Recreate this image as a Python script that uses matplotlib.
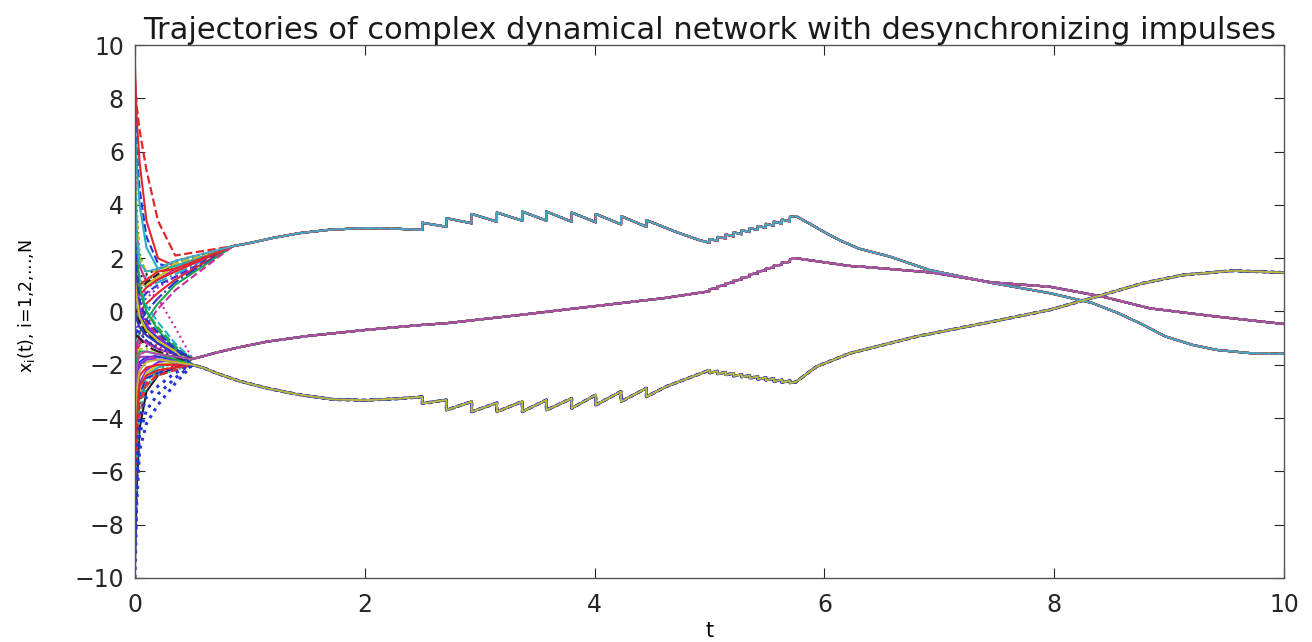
import matplotlib
matplotlib.use('Agg')
import matplotlib.pyplot as plt

# --- time knots for the initial transient (t = 0 ... 0.35) ---
t_init = [0.0, 0.015, 0.04, 0.1, 0.2, 0.35]

# node states at t_init, grouped by the cluster they end up in
top_nodes = [
    [8.6, 7.7, 6.8, 5.3, 3.4, 2.1],
    [9.2, 7.2, 5.6, 3.4, 2.0, 1.7],
    [7.4, 6.0, 4.6, 2.8, 1.8, 1.6],
    [6.3, 3.9, 2.2, 1.3, 1.2, 1.5],
    [5.4, 3.1, 1.7, 1.1, 1.2, 1.6],
    [4.6, 2.5, 1.2, 0.9, 1.1, 1.4],
    [3.8, 2.0, 1.0, 1.0, 1.3, 1.7],
    [3.0, 1.5, 0.8, 1.1, 1.4, 1.8],
    [2.2, 1.0, 0.6, 0.9, 1.2, 1.5],
    [1.4, 0.6, 0.4, 0.7, 1.0, 1.3],
    [0.6, 0.2, 0.2, 0.5, 0.9, 1.3],
    [-0.3, -0.2, 0.0, 0.3, 0.7, 1.2],
    [-1.2, -0.7, -0.4, 0.0, 0.5, 1.1],
    [-2.3, -1.4, -0.8, -0.3, 0.3, 1.0],
    [-3.4, -2.0, -1.2, -0.5, 0.1, 0.8],
    [6.9, 5.5, 4.0, 2.4, 1.6, 1.7],
    [5.0, 3.6, 2.0, 1.5, 1.5, 1.8],
    [2.7, 1.8, 1.3, 1.4, 1.6, 1.9],
    [0.9, 0.9, 1.0, 1.2, 1.5, 1.6],
    [4.0, 2.8, 1.8, 1.5, 1.6, 1.9],
]
mid_nodes = [
    [-1.0, -0.7, -0.8, -1.1, -1.4, -1.6],
    [-5.2, -3.6, -2.7, -2.2, -1.9, -1.8],
    [-8.2, -5.6, -3.9, -2.8, -2.3, -2.0],
    [1.8, 0.8, 0.0, -0.7, -1.2, -1.5],
    [3.4, 1.9, 0.8, 0.0, -0.6, -1.3],
    [0.4, 0.3, 0.5, 0.8, 0.5, -0.6],
    [-6.6, -4.6, -3.2, -2.4, -2.1, -1.9],
    [-2.6, -1.8, -1.4, -1.4, -1.5, -1.7],
    [-9.6, -6.6, -4.4, -3.0, -2.4, -2.1],
    [2.6, 1.2, 0.3, -0.4, -0.9, -1.4],
    [-3.6, -2.5, -1.9, -1.7, -1.7, -1.8],
    [-4.4, -3.0, -2.2, -1.8, -1.6, -1.7],
    [-0.2, -0.3, -0.5, -0.8, -1.1, -1.5],
    [1.0, 0.4, -0.2, -0.6, -1.0, -1.4],
    [-7.4, -5.0, -3.5, -2.6, -2.2, -1.9],
    [-1.8, -1.2, -1.0, -1.2, -1.4, -1.6],
    [4.8, 2.6, 1.0, 0.2, -0.4, -1.2],
    [-5.8, -4.0, -2.9, -2.3, -2.0, -1.9],
    [0.2, -0.1, -0.4, -0.8, -1.2, -1.5],
    [-3.0, -2.1, -1.6, -1.5, -1.6, -1.7],
]
bot_nodes = [
    [-10.0, -7.2, -5.2, -4.2, -3.5, -2.7],
    [-9.0, -6.4, -4.6, -3.7, -3.1, -2.5],
    [-7.8, -5.4, -4.0, -3.2, -2.8, -2.3],
    [-2.0, -1.5, -1.2, -1.1, -1.3, -1.6],
    [0.0, -0.3, -0.6, -0.9, -1.2, -1.6],
    [2.0, 1.0, 0.1, -0.5, -1.0, -1.5],
    [-4.6, -3.2, -2.4, -2.1, -2.0, -2.0],
    [-6.2, -4.3, -3.1, -2.5, -2.3, -2.1],
    [4.4, 2.3, 0.9, 0.0, -0.7, -1.4],
    [-3.0, -2.1, -1.7, -1.7, -1.8, -1.9],
    [-8.6, -5.8, -3.8, -2.8, -2.4, -2.2],
    [1.2, 0.5, -0.2, -0.7, -1.1, -1.5],
    [-1.0, -0.9, -1.0, -1.3, -1.5, -1.7],
    [-5.4, -3.8, -2.8, -2.4, -2.2, -2.1],
    [3.0, 1.5, 0.4, -0.3, -0.8, -1.4],
    [-3.8, -2.7, -2.0, -1.8, -1.8, -1.9],
    [-7.0, -4.8, -3.4, -2.7, -2.4, -2.2],
    [-0.6, -0.6, -0.8, -1.1, -1.4, -1.6],
    [-2.4, -1.8, -1.5, -1.5, -1.6, -1.8],
    [-4.2, -2.9, -2.2, -1.9, -1.8, -1.9],
]

# impulse instants
imp_big = [2.50, 2.71, 2.93, 3.15, 3.37, 3.58, 3.80, 4.01, 4.23, 4.45]
imp_small = [5.00, 5.07, 5.14, 5.21, 5.28, 5.35, 5.42, 5.49, 5.56, 5.63, 5.70]

# --- cluster 1 (cyan) ---
cyan_t0 = [0.85, 1.0, 1.2, 1.43, 1.7, 2.0, 2.25]
cyan_y0 = [2.45, 2.57, 2.76, 2.94, 3.07, 3.13, 3.11]
cyan_pre_big = [3.06, 3.18, 3.31, 3.37, 3.41, 3.41, 3.37, 3.35, 3.27, 3.18]
cyan_post_big = [3.33, 3.50, 3.66, 3.71, 3.75, 3.75, 3.71, 3.66, 3.58, 3.43]
cyan_t1 = [4.70, 4.91]
cyan_y1 = [3.00, 2.68]
cyan_pre_small = [2.58, 2.65, 2.74, 2.82, 2.90, 2.98, 3.06, 3.14, 3.22, 3.30, 3.38]
cyan_post_small = [2.72, 2.80, 2.89, 2.97, 3.05, 3.13, 3.21, 3.29, 3.37, 3.45, 3.55]
cyan_t2 = [5.75, 5.87, 5.99, 6.13, 6.30, 6.57, 6.91, 7.20, 7.46, 7.96, 8.33, 8.55,
           8.74, 8.97, 9.20, 9.41, 9.70, 10.0]
cyan_y2 = [3.58, 3.30, 3.00, 2.68, 2.36, 2.06, 1.56, 1.30, 1.07, 0.69, 0.32, -0.05,
           -0.43, -0.94, -1.25, -1.44, -1.56, -1.59]

# --- cluster 2 (magenta) ---
mag_t0 = [0.5, 0.6, 0.7, 0.9, 1.15, 1.5, 2.01, 2.48, 2.71, 3.35, 3.8, 4.22, 4.6, 4.97]
mag_y0 = [-1.78, -1.67, -1.55, -1.35, -1.13, -0.92, -0.69, -0.51, -0.44, -0.13, 0.10,
          0.31, 0.50, 0.74]
mag_pre_small = [0.76, 0.86, 0.97, 1.08, 1.19, 1.30, 1.42, 1.53, 1.64, 1.75, 1.86]
mag_post_small = [0.84, 0.95, 1.06, 1.17, 1.28, 1.40, 1.51, 1.62, 1.73, 1.84, 1.96]
mag_t2 = [5.75, 6.22, 6.39, 6.94, 7.46, 7.96, 8.42, 8.83, 9.41, 10.0]
mag_y2 = [2.00, 1.71, 1.66, 1.46, 1.09, 0.93, 0.56, 0.12, -0.19, -0.47]

# --- cluster 3 (yellow) ---
yel_t0 = [0.5, 0.6, 0.7, 0.9, 1.15, 1.4, 1.72, 2.0, 2.3]
yel_y0 = [-2.0, -2.12, -2.3, -2.6, -2.88, -3.1, -3.30, -3.33, -3.27]
yel_pre_big = [-3.20, -3.32, -3.38, -3.43, -3.38, -3.32, -3.26, -3.13, -3.00, -2.88]
yel_post_big = [-3.45, -3.70, -3.76, -3.76, -3.76, -3.70, -3.63, -3.51, -3.38, -3.20]
yel_t1 = [4.62]
yel_y1 = [-2.82]
yel_pre_small = [-2.20, -2.24, -2.28, -2.32, -2.36, -2.40, -2.44, -2.48, -2.52, -2.56, -2.60]
yel_post_small = [-2.30, -2.34, -2.38, -2.42, -2.46, -2.50, -2.54, -2.58, -2.62, -2.66, -2.68]
yel_t2 = [5.75, 5.93, 6.22, 6.80, 7.46, 7.96, 8.42, 8.77, 9.12, 9.55, 10.0]
yel_y2 = [-2.65, -2.07, -1.57, -0.94, -0.38, 0.06, 0.62, 1.06, 1.37, 1.53, 1.46]


def jumps(times, pre, post):
    # each impulse is a vertical jump: value before, value after
    tt, yy = [], []
    for t, a, b in zip(times, pre, post):
        tt += [t, t]
        yy += [a, b]
    return tt, yy


tb, cb = jumps(imp_big, cyan_pre_big, cyan_post_big)
ts, cs = jumps(imp_small, cyan_pre_small, cyan_post_small)
cyan_t = cyan_t0 + tb + cyan_t1 + ts + cyan_t2
cyan_y = cyan_y0 + cb + cyan_y1 + cs + cyan_y2

ts, ms = jumps(imp_small, mag_pre_small, mag_post_small)
mag_t = mag_t0 + ts + mag_t2
mag_y = mag_y0 + ms + mag_y2

tb, yb = jumps(imp_big, yel_pre_big, yel_post_big)
ts, ys = jumps(imp_small, yel_pre_small, yel_post_small)
yel_t = yel_t0 + tb + yel_t1 + ts + yel_t2
yel_y = yel_y0 + yb + yel_y1 + ys + yel_y2

# --- styles ---
node_colors = ['#e3262b', '#2433d6', '#1fa84a', '#c92ca0', '#1fb0c4', '#c9c41f',
               '#222222', '#e3262b', '#2433d6', '#8a2be2']
node_styles = ['-', '--', ':', '-', '-.', '-', '--']
final_colors = ['#41a9c9', '#b14fae', '#bdb83c']

plt.rcParams['font.family'] = ['DejaVu Sans']
plt.rcParams['mathtext.default'] = 'regular'

fig = plt.figure(figsize=(13.12, 6.42), dpi=100)
ax = fig.add_axes([0.1029, 0.0997, 0.8758, 0.8302])

groups = [(top_nodes, cyan_t, cyan_y), (mid_nodes, mag_t, mag_y), (bot_nodes, yel_t, yel_y)]
n_special = [1, 0, 3]   # red dashed on top, blue dotted at the bottom are drawn apart
k = 0
for (nodes, ct, cy), ns in zip(groups, n_special):
    for node in nodes[ns:-1]:
        c = node_colors[k % len(node_colors)]
        ls = node_styles[k % len(node_styles)]
        k += 1
        ax.plot(t_init + ct, node + cy, color=c, linestyle=ls, lw=1.5)

ax.plot(t_init + cyan_t, top_nodes[0] + cyan_y, color='#e3262b', ls='--', lw=1.6)
for node in bot_nodes[:3]:
    ax.plot(t_init + yel_t, node + yel_y, color='#2433d6', ls=':', lw=2.2)

for (nodes, ct, cy), fc in zip(groups, final_colors):
    ax.plot(t_init + ct, nodes[-1] + cy, color=fc, lw=1.4)

ax.set_xlim(0, 10)
ax.set_ylim(-10, 10)
ax.set_xticks(range(0, 11, 2))
ax.set_yticks(range(-10, 11, 2))
ax.tick_params(direction='in', top=True, right=True, length=7, width=0.8,
               labelsize=17, colors='#262626')
ax.tick_params(axis='x', pad=11)
ax.tick_params(axis='y', pad=8)
for sp in ax.spines.values():
    sp.set_color('#555555')
    sp.set_linewidth(1.0)

ax.set_title('Trajectories of complex dynamical network with desynchronizing impulses',
             fontsize=22, pad=4, color='#1a1a1a')
ax.set_xlabel('t', fontsize=15)
ax.xaxis.set_label_coords(0.5, -0.08)
ax.set_ylabel('x$_{i}$(t), i=1,2,...,N', fontsize=12.5)
ax.yaxis.set_label_coords(-0.085, 0.51)

fig.savefig('out.png', dpi=100)
